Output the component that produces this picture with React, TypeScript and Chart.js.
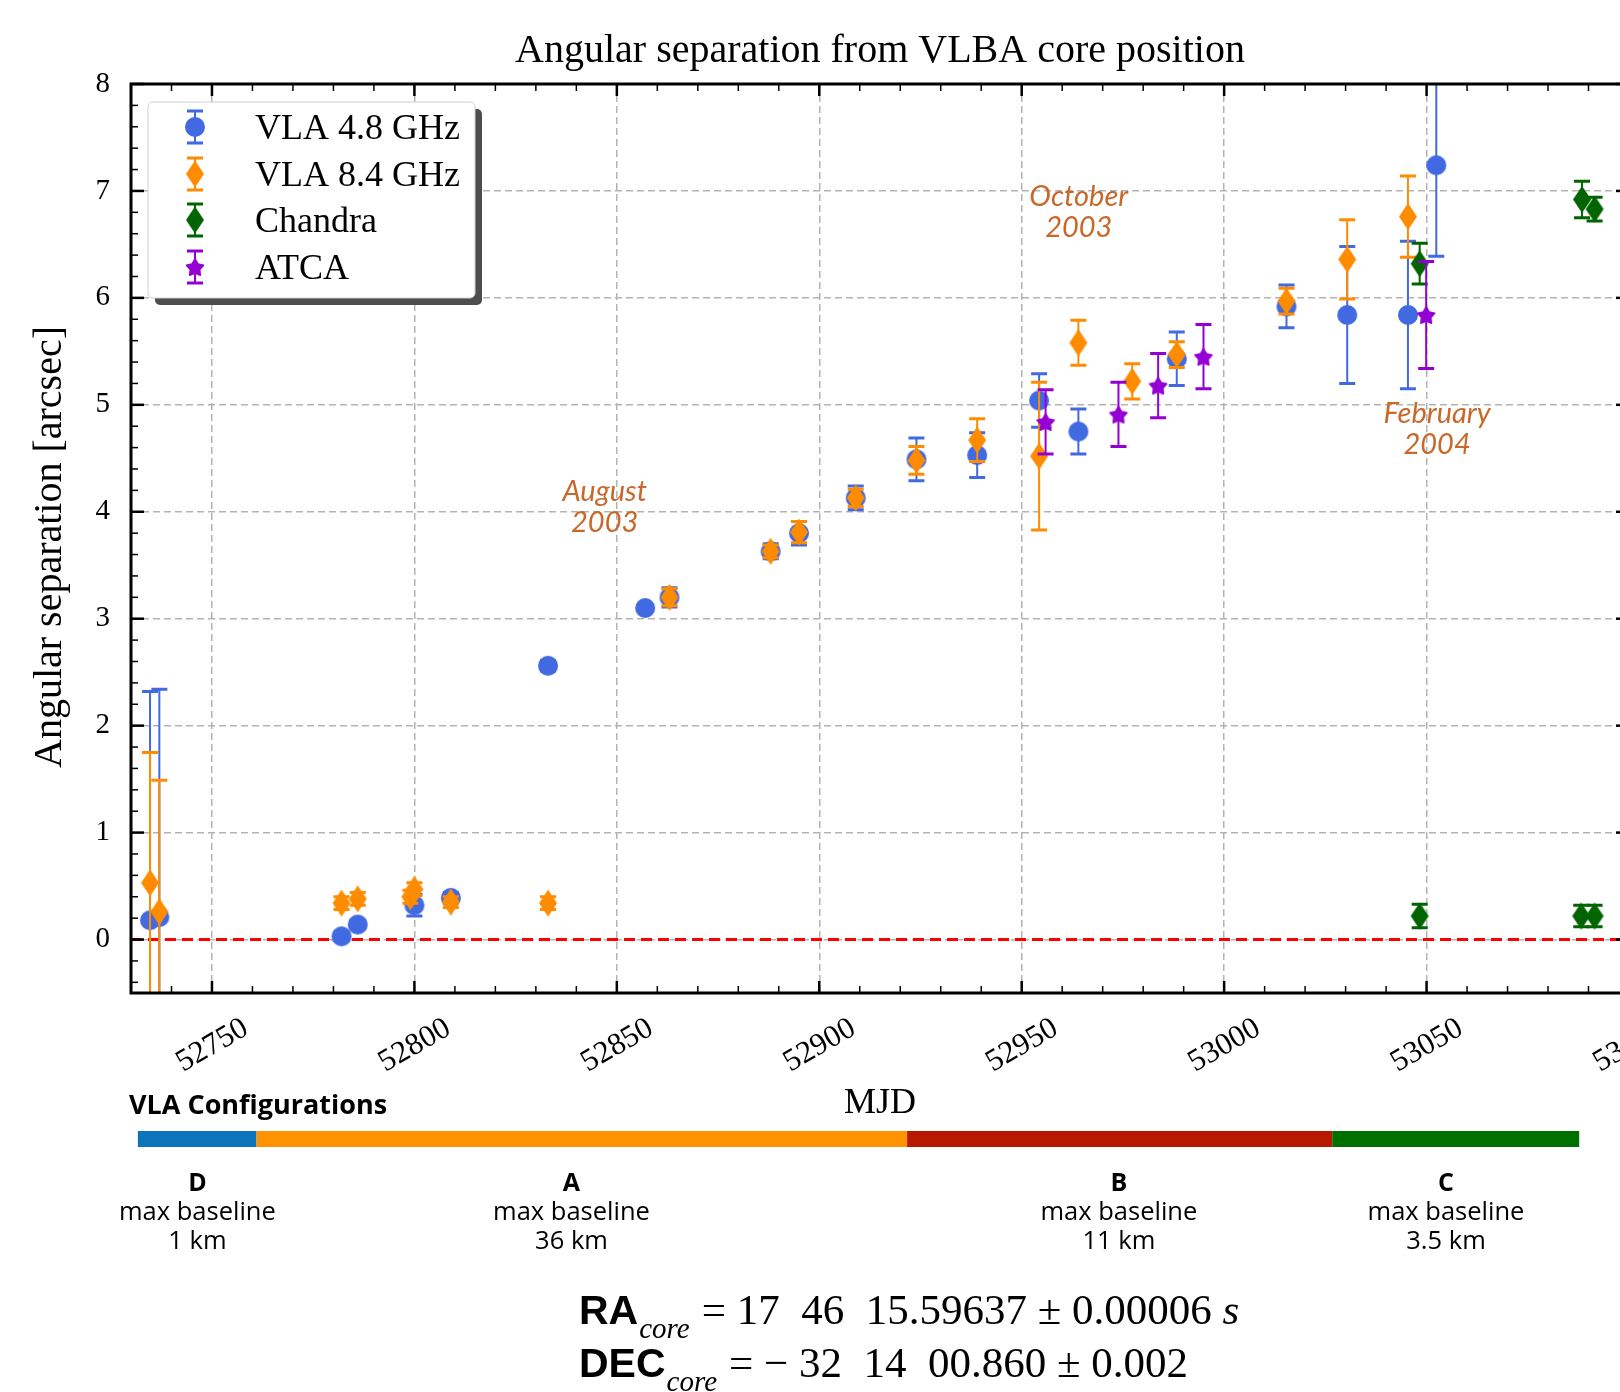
import React, { useEffect, useRef } from 'react';
import { Chart, registerables } from 'chart.js';

Chart.register(...registerables);

// ---------------- data ----------------
const VLA48_MJD = [52734.7, 52737.0, 52782.0, 52786.0, 52800.0, 52809.0, 52833.0, 52857.0, 52863.0, 52888.0, 52895.0, 52909.0, 52924.0, 52939.0, 52954.3, 52964.0, 52988.3, 53015.4, 53030.4, 53045.4, 53052.4];
const VLA48_SEP = [0.18, 0.21, 0.03, 0.14, 0.32, 0.39, 2.56, 3.10, 3.20, 3.63, 3.80, 4.13, 4.49, 4.53, 5.04, 4.75, 5.43, 5.92, 5.84, 5.84, 7.24];
const VLA48_ERR = [2.14, 2.13, 0.04, 0.04, 0.10, 0.05, 0.05, 0.03, 0.09, 0.07, 0.11, 0.11, 0.20, 0.21, 0.25, 0.21, 0.25, 0.20, 0.64, 0.69, 0.85];

const VLA84_MJD = [52734.7, 52737.0, 52782.0, 52786.0, 52799.0, 52800.0, 52809.0, 52833.0, 52863.0, 52888.0, 52895.0, 52909.0, 52924.0, 52939.0, 52954.3, 52964.0, 52977.3, 52988.3, 53015.4, 53030.4, 53045.4];
const VLA84_SEP = [0.53, 0.26, 0.34, 0.38, 0.40, 0.47, 0.35, 0.34, 3.20, 3.63, 3.81, 4.13, 4.48, 4.67, 4.52, 5.58, 5.22, 5.47, 5.97, 6.36, 6.76];
const VLA84_ERR = [1.22, 1.23, 0.06, 0.06, 0.06, 0.06, 0.05, 0.06, 0.08, 0.06, 0.10, 0.08, 0.13, 0.20, 0.69, 0.21, 0.165, 0.12, 0.12, 0.37, 0.38];

const CHANDRA_MJD = [53048.3, 53048.3, 53088.2, 53088.4, 53091.5, 53091.5];
const CHANDRA_SEP = [0.22, 6.32, 0.22, 6.92, 0.22, 6.83];
const CHANDRA_ERR = [0.11, 0.19, 0.10, 0.17, 0.10, 0.11];

const ATCA_MJD = [52955.9, 52973.9, 52983.7, 52994.9, 53049.9];
const ATCA_SEP = [4.84, 4.91, 5.18, 5.45, 5.84];
const ATCA_ERR = [0.30, 0.30, 0.30, 0.30, 0.50];

const SERIES_NAMES = ['VLA 4.8 GHz', 'VLA 8.4 GHz', 'Chandra', 'ATCA'];

const X_MIN = 52730;
const X_MAX = 53100;
const Y_MIN = -0.5;
const Y_MAX = 8;
const REF_LINE_Y = 0;

const ANNOT_TEXT = [['August', '2003'], ['October', '2003'], ['February', '2004']];
const ANNOT_MJD = [52847.0, 52964.1, 53052.6];
const ANNOT_SEP = [4.05, 6.81, 4.78];

const CONFIG_NAMES = ['D', 'A', 'B', 'C'];
const CONFIG_BASELINES = ['1 km', '36 km', '11 km', '3.5 km'];
const CONFIG_START = [52731.7, 52761.0, 52921.7, 53026.7];
const CONFIG_END = [52761.0, 52921.7, 53026.7, 53087.7];
const CONFIG_LABEL_MJD = [52746.4, 52838.8, 52974.0, 53054.8];

// ---------------- styles ----------------
const SERIF = '"Liberation Serif", "DejaVu Serif", serif';
const SANS = '"Open Sans", "Noto Sans", sans-serif';
const C_BLUE = '#4169e1';
const C_ORANGE = '#ff8c00';
const C_GREEN = '#006400';
const C_PURPLE = '#9400d3';
const CONFIG_COLORS = ['#0d73ba', '#ff9200', '#b51a00', '#007100'];
const ANNOT_COLOR = '#c8682a';

function makeCircle(color: string, r: number) {
  const c = document.createElement('canvas');
  c.width = 2 * r + 2; c.height = 2 * r + 2;
  const g = c.getContext('2d')!;
  g.fillStyle = color;
  g.beginPath(); g.arc(c.width / 2, c.height / 2, r, 0, Math.PI * 2); g.fill();
  return c;
}
function makeDiamond(color: string, w: number, h: number) {
  const c = document.createElement('canvas');
  c.width = w + 2; c.height = h + 2;
  const g = c.getContext('2d')!;
  g.fillStyle = color;
  g.beginPath();
  g.moveTo(c.width / 2, 1); g.lineTo(c.width - 1, c.height / 2);
  g.lineTo(c.width / 2, c.height - 1); g.lineTo(1, c.height / 2);
  g.closePath(); g.fill();
  return c;
}
function makeStar(color: string, R: number, r: number) {
  const c = document.createElement('canvas');
  c.width = 2 * R + 2; c.height = 2 * R + 2;
  const g = c.getContext('2d')!;
  g.fillStyle = color;
  g.strokeStyle = color;
  g.lineJoin = 'round';
  g.lineWidth = 1.5;
  g.beginPath();
  for (let i = 0; i < 10; i++) {
    const rad = i % 2 === 0 ? R - 1 : r;
    const a = -Math.PI / 2 + (i * Math.PI) / 5;
    const px = c.width / 2 + rad * Math.cos(a);
    const py = c.height / 2 + 1 + rad * Math.sin(a);
    if (i === 0) g.moveTo(px, py); else g.lineTo(px, py);
  }
  g.closePath(); g.fill(); g.stroke();
  return c;
}

function pts(xs: number[], ys: number[]) {
  return xs.map((x, i) => ({ x, y: ys[i] }));
}

function drawErr(ctx: CanvasRenderingContext2D, px: number, y1: number, y2: number, color: string) {
  ctx.strokeStyle = color;
  ctx.lineWidth = 2;
  ctx.beginPath(); ctx.moveTo(px, y1); ctx.lineTo(px, y2); ctx.stroke();
  ctx.lineWidth = 3;
  ctx.beginPath();
  ctx.moveTo(px - 8, y1); ctx.lineTo(px + 8, y1);
  ctx.moveTo(px - 8, y2); ctx.lineTo(px + 8, y2);
  ctx.stroke();
}

export default function App() {
  const ref = useRef<HTMLCanvasElement>(null);

  useEffect(() => {
    document.body.style.margin = '0';
    const canvas = ref.current!;
    const mBlue = makeCircle(C_BLUE, 10);
    const mOrange = makeDiamond(C_ORANGE, 18, 27);
    const mGreen = makeDiamond(C_GREEN, 18, 27);
    const mPurple = makeStar(C_PURPLE, 10, 5);
    const markers = [mBlue, mOrange, mGreen, mPurple];
    const colors = [C_BLUE, C_ORANGE, C_GREEN, C_PURPLE];

    const errorBarPlugin = {
      id: 'errbars',
      beforeDatasetDraw(chart: any, args: any) {
        const ds = chart.data.datasets[args.index];
        if (!ds.errors) return;
        const { ctx, chartArea: a, scales } = chart;
        ctx.save();
        ctx.beginPath();
        ctx.rect(a.left, a.top, a.right - a.left, a.bottom - a.top);
        ctx.clip();
        ds.data.forEach((p: any, i: number) => {
          const e = ds.errors[i];
          const px = scales.x.getPixelForValue(p.x);
          drawErr(ctx, px, scales.y.getPixelForValue(p.y - e), scales.y.getPixelForValue(p.y + e), ds.errColor);
        });
        ctx.restore();
      },
    };

    const framePlugin = {
      id: 'frame',
      afterDraw(chart: any) {
        const { ctx, chartArea: a, scales } = chart;
        const xs = scales.x, ys = scales.y;
        ctx.save();
        // annotations
        ctx.fillStyle = ANNOT_COLOR;
        ctx.font = `italic 29px Lato, "Open Sans", sans-serif`;
        ctx.textAlign = 'center';
        ctx.textBaseline = 'middle';
        ANNOT_TEXT.forEach((lines, i) => {
          const cx = xs.getPixelForValue(ANNOT_MJD[i]);
          const cy = ys.getPixelForValue(ANNOT_SEP[i]);
          ctx.fillText(lines[0], cx, cy - 15);
          ctx.fillText(lines[1], cx, cy + 16);
        });
        // ticks
        ctx.strokeStyle = '#000';
        const seg = (x1: number, y1: number, x2: number, y2: number, w: number) => {
          ctx.lineWidth = w; ctx.beginPath(); ctx.moveTo(x1, y1); ctx.lineTo(x2, y2); ctx.stroke();
        };
        for (let k = 0; X_MIN + k * 10 <= X_MAX + 1e-6; k++) {
          const v = X_MIN + k * 10;
          const major = Math.abs(v % 50) < 1e-6;
          const px = xs.getPixelForValue(v);
          const len = major ? 12 : 7, w = major ? 2.5 : 1.5;
          seg(px, a.bottom, px, a.bottom - len, w);
          seg(px, a.top, px, a.top + len, w);
        }
        for (let k = -2; k <= 40; k++) {
          const v = k * 0.2;
          if (v < Y_MIN - 1e-6 || v > Y_MAX + 1e-6) continue;
          const major = k % 5 === 0;
          const py = ys.getPixelForValue(v);
          const len = major ? 13 : 7, w = major ? 2.5 : 1.5;
          seg(a.left, py, a.left + len, py, w);
          seg(a.right, py, a.right - len, py, w);
        }
        ctx.lineWidth = 3;
        ctx.strokeRect(a.left, a.top, a.right - a.left, a.bottom - a.top);

        // title
        ctx.fillStyle = '#000';
        ctx.font = `40px ${SERIF}`;
        ctx.textAlign = 'center';
        ctx.textBaseline = 'alphabetic';
        ctx.fillText('Angular separation from VLBA core position', (a.left + a.right) / 2, 62);

        // y axis title
        ctx.save();
        ctx.translate(50, 547);
        ctx.rotate(-Math.PI / 2);
        ctx.font = `40px ${SERIF}`;
        ctx.textAlign = 'center';
        ctx.textBaseline = 'middle';
        ctx.fillText('Angular separation [arcsec]', 0, 0);
        ctx.restore();

        // legend
        const lx = 148, ly = 102, lw = 327, lh = 196;
        ctx.fillStyle = '#4d4d4d';
        ctx.beginPath(); ctx.roundRect(lx + 7, ly + 7, lw, lh, 5); ctx.fill();
        ctx.fillStyle = '#fff';
        ctx.strokeStyle = '#d0d0d0';
        ctx.lineWidth = 1;
        ctx.beginPath(); ctx.roundRect(lx, ly, lw, lh, 5); ctx.fill(); ctx.stroke();
        const rows = [127, 174, 220, 267];
        SERIES_NAMES.forEach((name, i) => {
          drawErr(ctx, 195, rows[i] - 16, rows[i] + 16, colors[i]);
          const m = markers[i];
          ctx.drawImage(m, 195 - m.width / 2, rows[i] - m.height / 2);
          ctx.fillStyle = '#000';
          ctx.font = `36px ${SERIF}`;
          ctx.textAlign = 'left';
          ctx.textBaseline = 'alphabetic';
          ctx.fillText(name, 255, rows[i] + 12);
        });

        // VLA configuration bar
        const barTop = a.bottom + 138;
        ctx.fillStyle = '#000';
        ctx.font = `bold 27px ${SANS}`;
        ctx.textAlign = 'left';
        ctx.textBaseline = 'middle';
        ctx.fillText('VLA Configurations', 129, a.bottom + 113);
        CONFIG_NAMES.forEach((nm, i) => {
          const x1 = xs.getPixelForValue(CONFIG_START[i]);
          const x2 = xs.getPixelForValue(CONFIG_END[i]);
          ctx.fillStyle = CONFIG_COLORS[i];
          ctx.fillRect(x1, barTop, x2 - x1, 16);
          const cx = xs.getPixelForValue(CONFIG_LABEL_MJD[i]);
          ctx.fillStyle = '#000';
          ctx.textAlign = 'center';
          ctx.font = `bold 25px ${SANS}`;
          ctx.fillText(nm, cx, a.bottom + 191);
          ctx.font = `25.5px ${SANS}`;
          ctx.fillText('max baseline', cx, a.bottom + 220);
          ctx.fillText(CONFIG_BASELINES[i], cx, a.bottom + 249);
        });

        // core position equations
        const eq = (x0: number, base: number, head: string, sub: string, rest: string, tail: string) => {
          ctx.fillStyle = '#000';
          ctx.textAlign = 'left';
          ctx.textBaseline = 'alphabetic';
          ctx.font = `bold 41px "Liberation Sans", Arial, sans-serif`;
          ctx.fillText(head, x0, base);
          let x = x0 + ctx.measureText(head).width + 1;
          ctx.font = `italic 29px ${SERIF}`;
          ctx.fillText(sub, x, base + 14);
          x += ctx.measureText(sub).width + 12;
          ctx.font = `43px ${SERIF}`;
          ctx.fillText(rest, x, base);
          x += ctx.measureText(rest).width;
          if (tail) {
            ctx.font = `italic 43px ${SERIF}`;
            ctx.fillText(tail, x, base);
          }
        };
        eq(579, 1324, 'RA', 'core', '= 17  46  15.59637 ± 0.00006 ', 's');
        eq(579, 1377, 'DEC', 'core', '= − 32  14  00.860 ± 0.002', '');
        ctx.restore();
      },
    };

    const common = { showLine: false, pointRadius: 10, pointHoverRadius: 10, borderWidth: 0 };
    const gridOpts = { color: '#b3b3b3', lineWidth: 1.5, drawTicks: false };
    const borderOpts = { display: false, dash: [7, 4] };

    const chart = new Chart(canvas, {
      type: 'scatter',
      data: {
        datasets: [
          { ...common, label: SERIES_NAMES[0], data: pts(VLA48_MJD, VLA48_SEP), pointStyle: mBlue, backgroundColor: C_BLUE, order: 4, errors: VLA48_ERR, errColor: C_BLUE } as any,
          { ...common, label: SERIES_NAMES[1], data: pts(VLA84_MJD, VLA84_SEP), pointStyle: mOrange, backgroundColor: C_ORANGE, order: 3, errors: VLA84_ERR, errColor: C_ORANGE } as any,
          { ...common, label: SERIES_NAMES[2], data: pts(CHANDRA_MJD, CHANDRA_SEP), pointStyle: mGreen, backgroundColor: C_GREEN, order: 2, errors: CHANDRA_ERR, errColor: C_GREEN } as any,
          { ...common, label: SERIES_NAMES[3], data: pts(ATCA_MJD, ATCA_SEP), pointStyle: mPurple, backgroundColor: C_PURPLE, order: 1, errors: ATCA_ERR, errColor: C_PURPLE } as any,
          {
            label: 'core', data: [{ x: X_MIN, y: REF_LINE_Y }, { x: X_MAX, y: REF_LINE_Y }],
            showLine: true, pointRadius: 0, borderColor: '#ff0000', borderWidth: 3, borderDash: [11, 6], order: 5,
          } as any,
        ],
      },
      options: {
        responsive: false,
        animation: false,
        devicePixelRatio: 1,
        events: [],
        layout: { padding: { top: 84, left: 0, right: 91, bottom: 267 } },
        plugins: { legend: { display: false }, title: { display: false }, tooltip: { enabled: false } },
        scales: {
          x: {
            type: 'linear', min: X_MIN, max: X_MAX,
            grid: gridOpts, border: borderOpts,
            ticks: {
              stepSize: 50, includeBounds: false, autoSkip: false, minRotation: 30, maxRotation: 30,
              labelOffset: 34, padding: 17, color: '#000', font: { family: SERIF, size: 31 },
              callback: (v: any) => String(v),
            },
            title: { display: true, text: 'MJD', color: '#000', font: { family: SERIF, size: 36 }, padding: { top: 0, bottom: 0 } },
            afterFit: (s: any) => { s.height = 132; },
          },
          y: {
            type: 'linear', min: Y_MIN, max: Y_MAX,
            grid: gridOpts, border: borderOpts,
            ticks: { stepSize: 1, includeBounds: false, padding: 21, color: '#000', font: { family: SERIF, size: 29 }, callback: (v: any) => String(v) },
            title: { display: false },
            afterFit: (s: any) => { s.width = 131; },
          },
        },
      } as any,
      plugins: [errorBarPlugin, framePlugin],
    });
    return () => chart.destroy();
  }, []);

  return (
    <div style={{ position: 'relative', width: 1620, height: 1392, overflow: 'hidden', background: '#fff' }}>
      <canvas ref={ref} width={1720} height={1392} style={{ display: 'block', width: 1720, height: 1392 }} />
    </div>
  );
}
